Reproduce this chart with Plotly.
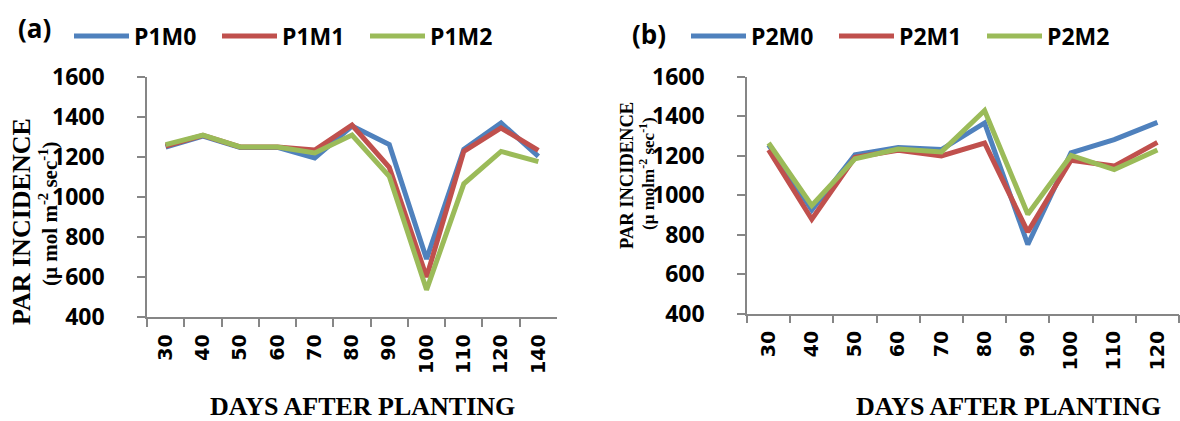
import plotly.graph_objects as go

# ---------------- data ----------------
days_a = ["30", "40", "50", "60", "70", "80", "90", "100", "110", "120", "140"]
p1m0 = [1250, 1305, 1248, 1248, 1195, 1355, 1262, 690, 1238, 1370, 1203]
p1m1 = [1255, 1308, 1250, 1250, 1235, 1360, 1148, 600, 1228, 1345, 1233]
p1m2 = [1262, 1310, 1250, 1250, 1220, 1310, 1104, 536, 1066, 1228, 1177]

days_b = ["30", "40", "50", "60", "70", "80", "90", "100", "110", "120"]
p2m0 = [1255, 925, 1205, 1242, 1232, 1367, 750, 1215, 1282, 1370]
p2m1 = [1230, 878, 1193, 1228, 1200, 1265, 814, 1178, 1148, 1268]
p2m2 = [1265, 948, 1185, 1235, 1220, 1430, 904, 1202, 1130, 1230]

names_a = ["P1M0", "P1M1", "P1M2"]
names_b = ["P2M0", "P2M1", "P2M2"]
colors = ["#4F81BD", "#C0504D", "#9BBB59"]

W, H = 1180, 421

fig = go.Figure()
for name, vals, col in zip(names_a, [p1m0, p1m1, p1m2], colors):
    fig.add_trace(go.Scatter(x=days_a, y=vals, name=name, mode="lines",
                             line=dict(color=col, width=5),
                             xaxis="x", yaxis="y", legend="legend"))
for name, vals, col in zip(names_b, [p2m0, p2m1, p2m2], colors):
    fig.add_trace(go.Scatter(x=days_b, y=vals, name=name, mode="lines",
                             line=dict(color=col, width=5),
                             xaxis="x2", yaxis="y2", legend="legend2"))

axis_col = "#868686"
xt = dict(type="category", showline=True, linecolor=axis_col, linewidth=1.5,
          ticks="outside", ticklen=8, tickcolor=axis_col, tickwidth=1.5,
          tickson="boundaries", showgrid=False, zeroline=False,
          tickangle=-90, ticklabelstandoff=8, automargin=False,
          tickfont=dict(family="DejaVu Sans", size=19, color="black", weight="bold"))
yt = dict(range=[400, 1600], dtick=200, showline=True, linecolor=axis_col,
          linewidth=1.5, ticks="outside", ticklen=8, tickcolor=axis_col,
          tickwidth=1.5, showgrid=False, zeroline=False, ticklabelstandoff=28,
          automargin=False,
          tickfont=dict(family="Open Sans", size=23, color="black", weight="bold"))

leg = dict(orientation="h", yanchor="middle", xanchor="left",
           font=dict(family="Open Sans", size=23, color="black", weight="bold"),
           itemwidth=55, entrywidth=78, entrywidthmode="pixels",
           bgcolor="rgba(0,0,0,0)", tracegroupgap=0)

fig.update_layout(
    width=W, height=H,
    margin=dict(l=0, r=0, t=0, b=0, autoexpand=False),
    paper_bgcolor="white", plot_bgcolor="white",
    xaxis=dict(domain=[147 / W, 557 / W], anchor="y",
               range=[-0.5, len(days_a) - 0.5], **xt),
    yaxis=dict(domain=[1 - 317 / H, 1 - 77 / H], anchor="x", **yt),
    xaxis2=dict(domain=[747 / W, 1179 / W], anchor="y2",
                range=[-0.5, len(days_b) - 0.5], **xt),
    yaxis2=dict(domain=[1 - 313.5 / H, 1 - 77 / H], anchor="x2", **yt),
    legend=dict(x=69 / W, y=1 - 36 / H, **leg),
    legend2=dict(x=686 / W, y=1 - 36 / H, **leg),
)

serif = "Liberation Serif"
ann = [
    dict(text="(a)", x=16 / W, y=1 - 28 / H, xanchor="left", yanchor="middle",
         font=dict(family="Open Sans", size=26, weight="bold", color="black")),
    dict(text="(b)", x=630 / W, y=1 - 34 / H, xanchor="left", yanchor="middle",
         font=dict(family="Open Sans", size=26, weight="bold", color="black")),
    dict(text="PAR INCIDENCE", x=21 / W, y=1 - 222 / H, textangle=-90,
         xanchor="center", yanchor="middle",
         font=dict(family=serif, size=26, weight="bold", color="black")),
    dict(text="(\u00b5 mol m<sup>-2</sup> sec<sup>-1</sup>)", x=48 / W, y=1 - 214 / H,
         textangle=-90, xanchor="center", yanchor="middle",
         font=dict(family=serif, size=21, weight="bold", color="black")),
    dict(text="PAR INCIDENCE", x=627 / W, y=1 - 176 / H, textangle=-90,
         xanchor="center", yanchor="middle",
         font=dict(family=serif, size=18.5, weight="bold", color="black")),
    dict(text="(\u00b5 molm<sup>-2</sup> sec<sup>-1</sup>)", x=647 / W, y=1 - 174 / H,
         textangle=-90, xanchor="center", yanchor="middle",
         font=dict(family=serif, size=17, weight="bold", color="black")),
    dict(text="DAYS AFTER PLANTING", x=362 / W, y=1 - 406 / H,
         xanchor="center", yanchor="middle",
         font=dict(family=serif, size=26, weight="bold", color="black")),
    dict(text="DAYS AFTER PLANTING", x=1008 / W, y=1 - 406 / H,
         xanchor="center", yanchor="middle",
         font=dict(family=serif, size=26, weight="bold", color="black")),
]
for a in ann:
    a.update(xref="paper", yref="paper", showarrow=False)
fig.update_layout(annotations=ann)

fig.write_html("out.html")
